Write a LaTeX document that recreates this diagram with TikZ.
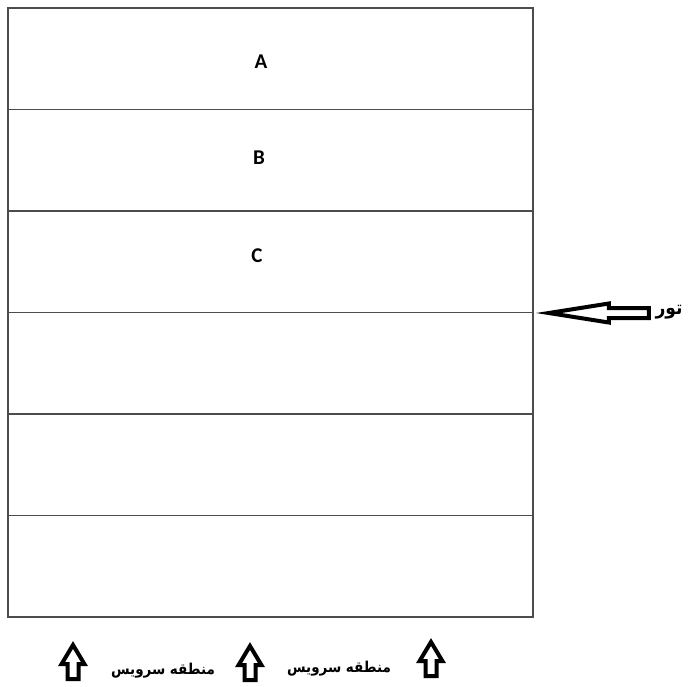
\documentclass[tikz,border=0pt]{standalone}
\usepackage{fontspec}
\setsansfont{Carlito}
\newfontfamily\farsifont[Script=Arabic]{DejaVu Sans Condensed Bold}
\TeXXeTstate=1
\usetikzlibrary{shapes.arrows,positioning}

\begin{document}
\begin{tikzpicture}[x=0.5pt,y=-0.5pt,
    row/.style={draw=black!70,line width=0.6pt,minimum width=262.5pt,minimum height=50.75pt,inner sep=0pt,outer sep=0pt},
    letter/.style={font=\sffamily\bfseries\fontsize{10.5}{12}\selectfont},
    farsi label/.style={font=\farsifont\fontsize{7.5}{9}\selectfont,inner sep=0pt},
    block arrow/.style={single arrow,draw,fill=white,line width=2pt,single arrow head indent=0pt},
    up arrow/.style={block arrow,shape border rotate=90,anchor=tail,minimum height=17pt,inner sep=1.75pt,single arrow head extend=3pt,single arrow tip angle=62}]
    \useasboundingbox (0,0) rectangle (688,686);

    % the six rows
    \node[row,anchor=north west] at (8,8) (r1) {};
    \node[row,below=0pt of r1] (r2) {};
    \node[row,below=0pt of r2] (r3) {};
    \node[row,below=0pt of r3] (r4) {};
    \node[row,below=0pt of r4] (r5) {};
    \node[row,below=0pt of r5] (r6) {};

    \node[letter] at (261,62) (a) {A};
    \node[letter] at (259,158) (b) {B};
    \node[letter] at (257,256) (c) {C};

    % entrance arrow
    \node[block arrow,shape border rotate=180,anchor=tip,minimum height=50pt,inner sep=1.5pt,single arrow head extend=2.25pt,single arrow tip angle=18] at (536,313) (tourarrow) {};
    \node[farsi label,font=\farsifont\fontsize{9.5}{11}\selectfont] at (669,312) (tour) {\beginR تور\endR};

    % service arrows
    \node[up arrow] at (73,681) (s1) {};
    \node[up arrow] at (250,682) (s2) {};
    \node[up arrow] at (431,678) (s3) {};
    \node[farsi label] at (163,671) (z1) {\beginR منطقه سرویس\endR};
    \node[farsi label] at (339,669) (z2) {\beginR منطقه سرویس\endR};
\end{tikzpicture}
\end{document}
